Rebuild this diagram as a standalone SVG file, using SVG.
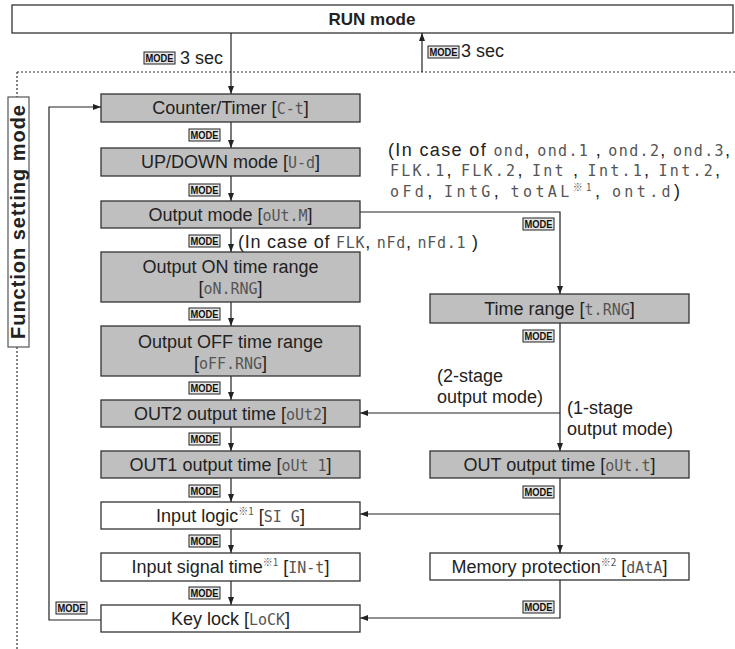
<svg xmlns="http://www.w3.org/2000/svg" width="735" height="649" viewBox="0 0 735 649">
<defs>
<style>
.box{stroke:#333;stroke-width:1.3}
.g{fill:#bfbfbf}
.w{fill:#fff}
.t{font-family:"Liberation Sans",Arial,"Noto Sans CJK JP",sans-serif;font-size:18px;fill:#222}
.c{text-anchor:middle}
.seg{font-family:"DejaVu Sans Mono",monospace;font-size:15px;fill:#555}
.sup{font-family:"Noto Sans CJK JP","DejaVu Sans",sans-serif;font-size:10px;fill:#555}
.ln{stroke:#222;stroke-width:1.2;fill:none}
.dot{stroke:#333;stroke-width:1.2;stroke-dasharray:2 2;fill:none}
.mk rect{fill:#e6e6e6;stroke:#222;stroke-width:1}
.mk text{font-family:"Liberation Sans",Arial,sans-serif;font-size:11px;font-weight:bold;fill:#111}
.bold{font-family:"Liberation Sans",Arial,sans-serif;font-weight:bold;fill:#222}
</style>
<marker id="ah" viewBox="0 0 8 8" refX="8" refY="4" markerWidth="8" markerHeight="8" markerUnits="userSpaceOnUse" orient="auto"><path d="M0,1 L8,4 L0,7 z" fill="#222"/></marker>
</defs>
<rect width="735" height="649" fill="#fff"/>

<g id="run">
<rect class="box w" x="12" y="5" width="721" height="28"/>
<text class="bold" x="372" y="25" font-size="17" text-anchor="middle">RUN mode</text>
</g>

<g id="frame">
<path class="dot" d="M17,72 H735"/>
<path class="dot" d="M17,72 V97"/>
<path class="dot" d="M17,347 V649"/>
<rect x="8" y="97" width="21" height="250" fill="#fff" stroke="#555" stroke-width="1.2"/>
<text class="bold" font-size="20" transform="translate(25,222) rotate(-90)" text-anchor="middle" textLength="234" lengthAdjust="spacing">Function setting mode</text>
</g>

<g id="connectors">
<path class="ln" d="M231,33 V94" marker-end="url(#ah)"/>
<path class="ln" d="M422,72 V33" marker-end="url(#ah)"/>
<path class="ln" d="M231,122 V148" marker-end="url(#ah)"/>
<path class="ln" d="M231,176 V201" marker-end="url(#ah)"/>
<path class="ln" d="M231,228 V252" marker-end="url(#ah)"/>
<path class="ln" d="M231,302 V326" marker-end="url(#ah)"/>
<path class="ln" d="M231,376 V400" marker-end="url(#ah)"/>
<path class="ln" d="M231,427 V451" marker-end="url(#ah)"/>
<path class="ln" d="M231,478 V502" marker-end="url(#ah)"/>
<path class="ln" d="M231,529 V553" marker-end="url(#ah)"/>
<path class="ln" d="M231,581 V605" marker-end="url(#ah)"/>
<path class="ln" d="M101,620 H49 V107 H101" marker-end="url(#ah)"/>
<path class="ln" d="M360,212 H560 V294" marker-end="url(#ah)"/>
<path class="ln" d="M560,323 V451" marker-end="url(#ah)"/>
<path class="ln" d="M560,413 H360" marker-end="url(#ah)"/>
<path class="ln" d="M560,478 V553" marker-end="url(#ah)"/>
<path class="ln" d="M560,514 H360" marker-end="url(#ah)"/>
<path class="ln" d="M560,580 V618 H360" marker-end="url(#ah)"/>
</g>

<g id="modekeys" class="mk">
<g><rect x="144" y="52" width="31" height="12"/><text x="159.5" y="62" text-anchor="middle" textLength="28" lengthAdjust="spacingAndGlyphs">MODE</text></g>
<g><rect x="428" y="46" width="31" height="12"/><text x="443.5" y="56" text-anchor="middle" textLength="28" lengthAdjust="spacingAndGlyphs">MODE</text></g>
<g><rect x="189" y="129" width="31" height="12"/><text x="204.5" y="139" text-anchor="middle" textLength="28" lengthAdjust="spacingAndGlyphs">MODE</text></g>
<g><rect x="189" y="184" width="31" height="12"/><text x="204.5" y="194" text-anchor="middle" textLength="28" lengthAdjust="spacingAndGlyphs">MODE</text></g>
<g><rect x="189" y="235" width="31" height="12"/><text x="204.5" y="245" text-anchor="middle" textLength="28" lengthAdjust="spacingAndGlyphs">MODE</text></g>
<g><rect x="189" y="308" width="31" height="12"/><text x="204.5" y="318" text-anchor="middle" textLength="28" lengthAdjust="spacingAndGlyphs">MODE</text></g>
<g><rect x="189" y="382" width="31" height="12"/><text x="204.5" y="392" text-anchor="middle" textLength="28" lengthAdjust="spacingAndGlyphs">MODE</text></g>
<g><rect x="189" y="433" width="31" height="12"/><text x="204.5" y="443" text-anchor="middle" textLength="28" lengthAdjust="spacingAndGlyphs">MODE</text></g>
<g><rect x="189" y="485" width="31" height="12"/><text x="204.5" y="495" text-anchor="middle" textLength="28" lengthAdjust="spacingAndGlyphs">MODE</text></g>
<g><rect x="189" y="535" width="31" height="12"/><text x="204.5" y="545" text-anchor="middle" textLength="28" lengthAdjust="spacingAndGlyphs">MODE</text></g>
<g><rect x="189" y="587" width="31" height="12"/><text x="204.5" y="597" text-anchor="middle" textLength="28" lengthAdjust="spacingAndGlyphs">MODE</text></g>
<g><rect x="56" y="602" width="31" height="12"/><text x="71.5" y="612" text-anchor="middle" textLength="28" lengthAdjust="spacingAndGlyphs">MODE</text></g>
<g><rect x="523" y="218" width="31" height="12"/><text x="538.5" y="228" text-anchor="middle" textLength="28" lengthAdjust="spacingAndGlyphs">MODE</text></g>
<g><rect x="523" y="330" width="31" height="12"/><text x="538.5" y="340" text-anchor="middle" textLength="28" lengthAdjust="spacingAndGlyphs">MODE</text></g>
<g><rect x="523" y="486" width="31" height="12"/><text x="538.5" y="496" text-anchor="middle" textLength="28" lengthAdjust="spacingAndGlyphs">MODE</text></g>
<g><rect x="523" y="601" width="31" height="12"/><text x="538.5" y="611" text-anchor="middle" textLength="28" lengthAdjust="spacingAndGlyphs">MODE</text></g>
</g>

<g id="labels">
<text class="t" x="180" y="64">3 sec</text>
<text class="t" x="461" y="57">3 sec</text>
<text class="t" x="388" y="156" textLength="342" lengthAdjust="spacing">(In case of <tspan class="seg">ond</tspan>, <tspan class="seg">ond.1</tspan> , <tspan class="seg">ond.2</tspan>, <tspan class="seg">ond.3</tspan>,</text>
<text class="t" x="390" y="176" textLength="330" lengthAdjust="spacing"><tspan class="seg">FLK.1</tspan>, <tspan class="seg">FLK.2</tspan>, <tspan class="seg">Int</tspan> , <tspan class="seg">Int.1</tspan>, <tspan class="seg">Int.2</tspan>,</text>
<text class="t" x="390" y="197" textLength="290" lengthAdjust="spacing"><tspan class="seg">oFd</tspan>, <tspan class="seg">IntG</tspan>, <tspan class="seg">totAL</tspan><tspan class="sup" dy="-6">※1</tspan><tspan dy="6">, </tspan><tspan class="seg">ont.d</tspan>)</text>
<text class="t" x="238" y="248" textLength="240" lengthAdjust="spacing">(In case of <tspan class="seg">FLK</tspan>, <tspan class="seg">nFd</tspan>, <tspan class="seg">nFd.1</tspan> )</text>
<text class="t" x="437" y="382">(2-stage</text>
<text class="t" x="437" y="403">output mode)</text>
<text class="t" x="567" y="414">(1-stage</text>
<text class="t" x="567" y="435">output mode)</text>
</g>

<g id="n-ct"><rect class="box g" x="101" y="94" width="259" height="28"/><text class="t c" x="230.5" y="114">Counter/Timer [<tspan class="seg">C-t</tspan>]</text></g>
<g id="n-ud"><rect class="box g" x="101" y="148" width="259" height="28"/><text class="t c" x="230.5" y="168">UP/DOWN mode [<tspan class="seg">U-d</tspan>]</text></g>
<g id="n-outm"><rect class="box g" x="101" y="201" width="259" height="27"/><text class="t c" x="230.5" y="221">Output mode [<tspan class="seg">oUt.M</tspan>]</text></g>
<g id="n-on"><rect class="box g" x="101" y="252" width="259" height="50"/><text class="t c" x="230.5" y="273">Output ON time range</text><text class="t c" x="230.5" y="294">[<tspan class="seg">oN.RNG</tspan>]</text></g>
<g id="n-off"><rect class="box g" x="101" y="326" width="259" height="50"/><text class="t c" x="230.5" y="348">Output OFF time range</text><text class="t c" x="230.5" y="369">[<tspan class="seg">oFF.RNG</tspan>]</text></g>
<g id="n-out2"><rect class="box g" x="101" y="400" width="259" height="27"/><text class="t c" x="230.5" y="420">OUT2 output time [<tspan class="seg">oUt2</tspan>]</text></g>
<g id="n-out1"><rect class="box g" x="101" y="451" width="259" height="27"/><text class="t c" x="230.5" y="471">OUT1 output time [<tspan class="seg">oUt 1</tspan>]</text></g>
<g id="n-sig"><rect class="box w" x="101" y="502" width="259" height="27"/><text class="t c" x="230.5" y="522">Input logic<tspan class="sup" dy="-7">※1</tspan><tspan dy="7"> [</tspan><tspan class="seg">SI G</tspan>]</text></g>
<g id="n-int"><rect class="box w" x="101" y="553" width="259" height="28"/><text class="t c" x="230.5" y="573">Input signal time<tspan class="sup" dy="-7">※1</tspan><tspan dy="7"> [</tspan><tspan class="seg">IN-t</tspan>]</text></g>
<g id="n-lock"><rect class="box w" x="101" y="605" width="259" height="27"/><text class="t c" x="230.5" y="625">Key lock [<tspan class="seg">LoCK</tspan>]</text></g>
<g id="n-trng"><rect class="box g" x="430" y="294" width="259" height="29"/><text class="t c" x="559.5" y="315">Time range [<tspan class="seg">t.RNG</tspan>]</text></g>
<g id="n-outt"><rect class="box g" x="430" y="451" width="259" height="27"/><text class="t c" x="559.5" y="471">OUT output time [<tspan class="seg">oUt.t</tspan>]</text></g>
<g id="n-data"><rect class="box w" x="430" y="553" width="259" height="27"/><text class="t c" x="559.5" y="573">Memory protection<tspan class="sup" dy="-7">※2</tspan><tspan dy="7"> [</tspan><tspan class="seg">dAtA</tspan>]</text></g>
</svg>
